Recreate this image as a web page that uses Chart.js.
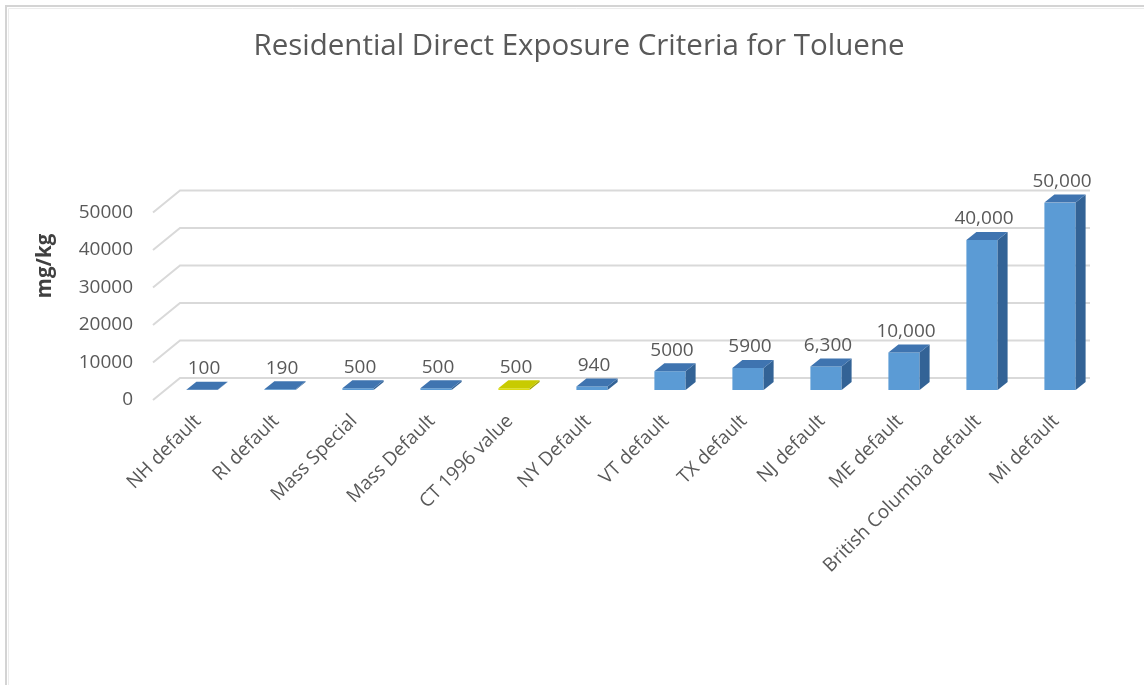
<!DOCTYPE html>
<html>
<head>
<meta charset="utf-8">
<title>Residential Direct Exposure Criteria for Toluene</title>
<script src="https://cdn.jsdelivr.net/npm/chart.js@4/dist/chart.umd.min.js"></script>
<style>
  html, body { margin: 0; padding: 0; background: #ffffff; }
  canvas { display: block; }
</style>
</head>
<body>
<canvas id="chart" width="1144" height="685"></canvas>
<script>
// Criteria values (mg/kg) by jurisdiction
const categories = [
  'NH default', 'RI default', 'Mass Special', 'Mass Default', 'CT 1996 value',
  'NY Default', 'VT default', 'TX default', 'NJ default', 'ME default',
  'British Columbia default', 'Mi default'
];
const values = [100, 190, 500, 500, 500, 940, 5000, 5900, 6300, 10000, 40000, 50000];
// whether the value label uses a thousands separator
const groupedLabels = [false, false, false, false, false, false, false, false, true, true, true, true];
// Connecticut's value is shown in yellow
const highlighted = [false, false, false, false, true, false, false, false, false, false, false, false];
const yTicks = [0, 10000, 20000, 30000, 40000, 50000];

const FONT = "'Open Sans', 'Liberation Sans', sans-serif";
const TEXT = '#595959';

// colours of the three visible faces of each block
const BLUE = { front: '#5b9bd5', top: '#3f74b0', side: '#336396' };
const YELLOW = { front: '#dcdc10', top: '#c8cb00', side: '#a3a500' };

// oblique depth of each block
const DEPTH_X = 10, DEPTH_Y = 8;

function faceColors(i) { return highlighted[i] ? YELLOW : BLUE; }
function valueText(i) {
  return groupedLabels[i] ? values[i].toLocaleString('en-US') : String(values[i]);
}

const framePlugin = {
  id: 'frame',
  beforeDraw(chart) {
    const ctx = chart.ctx;
    ctx.save();
    ctx.strokeStyle = '#d4d4d4';
    ctx.lineWidth = 2;
    ctx.beginPath();
    ctx.moveTo(6, chart.height);
    ctx.lineTo(6, 6);
    ctx.lineTo(chart.width, 6);
    ctx.stroke();
    ctx.strokeStyle = '#ececec';
    ctx.lineWidth = 1;
    ctx.beginPath();
    ctx.moveTo(8.5, chart.height);
    ctx.lineTo(8.5, 8.5);
    ctx.lineTo(chart.width, 8.5);
    ctx.stroke();
    ctx.restore();
  }
};

// back wall and side wall gridlines
const wallPlugin = {
  id: 'wall',
  beforeDatasetsDraw(chart) {
    const { ctx, chartArea } = chart;
    const y = chart.scales.y;
    ctx.save();
    ctx.strokeStyle = '#d9d9d9';
    ctx.lineWidth = 2;
    yTicks.forEach(v => {
      const py = y.getPixelForValue(v);
      ctx.beginPath();
      ctx.moveTo(chartArea.left - 10, py + 10);
      ctx.lineTo(chartArea.left + 17, py - 12);
      ctx.lineTo(chartArea.right - 9, py - 12);
      ctx.stroke();
    });
    ctx.restore();
  }
};

// top and side faces of the blocks, plus value labels
const blockPlugin = {
  id: 'blocks',
  afterDatasetsDraw(chart) {
    const ctx = chart.ctx;
    const meta = chart.getDatasetMeta(0);
    ctx.save();
    meta.data.forEach((bar, i) => {
      const { x, y, base, width } = bar.getProps(['x', 'y', 'base', 'width'], true);
      const l = x - width / 2, r = x + width / 2;
      const c = faceColors(i);
      // side face
      ctx.fillStyle = c.side;
      ctx.beginPath();
      ctx.moveTo(r, y);
      ctx.lineTo(r + DEPTH_X, y - DEPTH_Y);
      ctx.lineTo(r + DEPTH_X, base - DEPTH_Y);
      ctx.lineTo(r, base);
      ctx.closePath();
      ctx.fill();
      // top face
      ctx.fillStyle = c.top;
      ctx.beginPath();
      ctx.moveTo(l, y);
      ctx.lineTo(r, y);
      ctx.lineTo(r + DEPTH_X, y - DEPTH_Y);
      ctx.lineTo(l + DEPTH_X, y - DEPTH_Y);
      ctx.closePath();
      ctx.fill();
    });
    ctx.fillStyle = TEXT;
    ctx.font = '19px ' + FONT;
    ctx.textAlign = 'center';
    ctx.textBaseline = 'middle';
    meta.data.forEach((bar, i) => {
      const { x, y } = bar.getProps(['x', 'y'], true);
      ctx.fillText(valueText(i), x + 2, y - 21);
    });
    ctx.restore();
  }
};

// vertical axis title
const axisTitlePlugin = {
  id: 'axisTitle',
  afterDraw(chart) {
    const ctx = chart.ctx;
    ctx.save();
    ctx.translate(45, 266);
    ctx.rotate(-Math.PI / 2);
    ctx.fillStyle = '#404040';
    ctx.font = 'bold 20.5px ' + FONT;
    ctx.textAlign = 'center';
    ctx.textBaseline = 'middle';
    ctx.fillText('mg/kg', 0, 0);
    ctx.restore();
  }
};

new Chart(document.getElementById('chart'), {
  type: 'bar',
  data: {
    labels: categories,
    datasets: [{
      data: values,
      backgroundColor: values.map((v, i) => faceColors(i).front),
      borderWidth: 0,
      barPercentage: 0.4,
      categoryPercentage: 1.0
    }]
  },
  options: {
    responsive: false,
    animation: false,
    devicePixelRatio: 1,
    layout: { padding: { left: 59, right: 45, top: 0, bottom: 0 } },
    plugins: {
      legend: { display: false },
      tooltip: { enabled: false },
      title: {
        display: true,
        text: 'Residential Direct Exposure Criteria for Toluene',
        color: TEXT,
        font: { family: FONT, size: 29.5, weight: 'normal' },
        padding: { top: 29, bottom: 138.1 }
      }
    },
    scales: {
      x: {
        grid: { display: false },
        border: { display: false },
        ticks: {
          autoSkip: false,
          minRotation: 45,
          maxRotation: 45,
          padding: 12,
          labelOffset: -4,
          color: TEXT,
          font: { family: FONT, size: 19 }
        },
        afterFit(scale) { scale.height = 295; }
      },
      y: {
        min: 0,
        max: 50000,
        grid: { display: false },
        border: { display: false },
        ticks: {
          stepSize: 10000,
          padding: 22,
          labelOffset: 10,
          color: TEXT,
          font: { family: FONT, size: 19 },
          callback: v => String(v)
        },
        afterFit(scale) { scale.width = 104; }
      }
    }
  },
  plugins: [framePlugin, wallPlugin, blockPlugin, axisTitlePlugin]
});
</script>
</body>
</html>
